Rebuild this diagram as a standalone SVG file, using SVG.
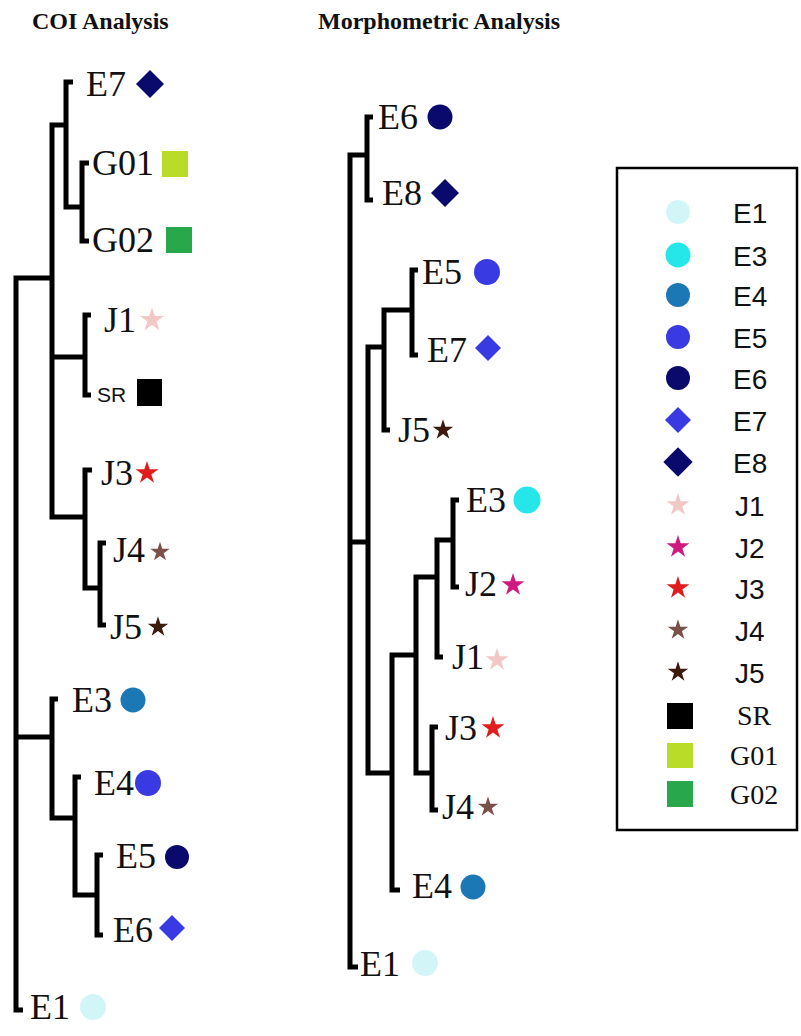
<svg xmlns="http://www.w3.org/2000/svg" xmlns:xlink="http://www.w3.org/1999/xlink" width="801" height="1036" viewBox="0 0 801 1036">
  <style>
    .title { font-family: "Liberation Serif", "Times New Roman", serif; font-weight: bold; font-size: 24px; fill: #111; }
    .lbl { font-family: "Liberation Serif", "Times New Roman", serif; font-size: 36px; fill: #111; }
    .sr { font-family: "Liberation Sans", Arial, sans-serif; font-size: 21px; fill: #111; }
    .leg { font-family: "Liberation Sans", Arial, sans-serif; font-size: 28px; fill: #111; }
    .legs { font-family: "Liberation Serif", "Times New Roman", serif; font-size: 28px; fill: #111; }
    .branch { fill: none; stroke: #000; stroke-width: 5; stroke-linejoin: miter; stroke-linecap: butt; }
    .c-e1 { fill: #d2f6f8; }
    .c-e3 { fill: #25e6e8; }
    .c-teal { fill: #1c78b4; }
    .c-blue { fill: #3a3ae2; }
    .c-navy { fill: #0a0a6c; }
    .c-j1 { fill: #f2c8c6; }
    .c-j2 { fill: #d01a80; }
    .c-j3 { fill: #e01c1c; }
    .c-j4 { fill: #7a5048; }
    .c-j5 { fill: #3c1a0e; }
    .c-sr { fill: #000; }
    .c-g01 { fill: #b8dc28; }
    .c-g02 { fill: #28a84a; }
  </style>
  <defs>
    <!-- five-pointed star, outer radius 12 -->
    <path id="star" d="M0,-12 L2.69,-3.71 L11.41,-3.71 L4.36,1.42 L7.05,9.71 L0,4.58 L-7.05,9.71 L-4.36,1.42 L-11.41,-3.71 L-2.69,-3.71 Z"/>
    <!-- diamond, half-diagonal 14 -->
    <path id="diamond" d="M0,-14 L14,0 L0,14 L-14,0 Z"/>
  </defs>

  <rect width="801" height="1036" fill="#fff"/>

  <text class="title" x="32" y="29">COI Analysis</text>
  <text class="title" x="318" y="29">Morphometric Analysis</text>

  <!-- tree branches -->
  <g id="connectors">
    <!-- COI tree -->
    <path class="branch" d="M23,1010 H16 V278 H52"/>
    <path class="branch" d="M16,737 H52"/>
    <path class="branch" d="M66,125 H52 V517 H85"/>
    <path class="branch" d="M52,357 H85"/>
    <path class="branch" d="M73,82 H66 V207 H82"/>
    <path class="branch" d="M89,163 H82 V241 H89"/>
    <path class="branch" d="M91,315 H85 V395 H91"/>
    <path class="branch" d="M92,470 H85 V588 H100"/>
    <path class="branch" d="M106,543 H100 V625 H106"/>
    <path class="branch" d="M58,699 H52 V818 H75"/>
    <path class="branch" d="M81,777 H75 V895 H97"/>
    <path class="branch" d="M103,855 H97 V935 H103"/>
    <!-- Morphometric tree -->
    <path class="branch" d="M358,967 H350 V155 H367"/>
    <path class="branch" d="M350,542 H368"/>
    <path class="branch" d="M373,117 H367 V200 H373"/>
    <path class="branch" d="M384,347 H368 V773 H392"/>
    <path class="branch" d="M390,430 H384 V310 H412"/>
    <path class="branch" d="M418,270 H412 V355 H418"/>
    <path class="branch" d="M400,890 H392 V655 H416"/>
    <path class="branch" d="M437,577 H416 V773 H432"/>
    <path class="branch" d="M438,810 H432 V727 H438"/>
    <path class="branch" d="M443,657 H437 V540 H453"/>
    <path class="branch" d="M459,500 H453 V587 H459"/>
  </g>

  <!-- COI tree leaves -->
  <g id="coi-E7"><text class="lbl" x="86" y="96">E7</text><use xlink:href="#diamond" class="c-navy" transform="translate(150,84)"/></g>
  <g id="coi-G01"><text class="lbl" x="92" y="175">G01</text><rect class="c-g01" x="162" y="151" width="26" height="26"/></g>
  <g id="coi-G02"><text class="lbl" x="92" y="252">G02</text><rect class="c-g02" x="166" y="227" width="26" height="26"/></g>
  <g id="coi-J1"><text class="lbl" x="104" y="332">J1</text><use xlink:href="#star" class="c-j1" transform="translate(152,320) scale(1.05)"/></g>
  <g id="coi-SR"><text class="sr" x="97" y="402">SR</text><rect class="c-sr" x="137" y="379" width="25" height="27"/></g>
  <g id="coi-J3"><text class="lbl" x="101" y="485">J3</text><use xlink:href="#star" class="c-j3" transform="translate(147,473)"/></g>
  <g id="coi-J4"><text class="lbl" x="113" y="562">J4</text><use xlink:href="#star" class="c-j4" transform="translate(160,552) scale(0.85)"/></g>
  <g id="coi-J5"><text class="lbl" x="110" y="639">J5</text><use xlink:href="#star" class="c-j5" transform="translate(158,627) scale(0.9)"/></g>
  <g id="coi-E3"><text class="lbl" x="72" y="712">E3</text><circle class="c-teal" cx="133" cy="700" r="12.5"/></g>
  <g id="coi-E4"><text class="lbl" x="94" y="795">E4</text><circle class="c-blue" cx="148" cy="783" r="13"/></g>
  <g id="coi-E5"><text class="lbl" x="116" y="868">E5</text><circle class="c-navy" cx="177" cy="857" r="12"/></g>
  <g id="coi-E6"><text class="lbl" x="113" y="942">E6</text><use xlink:href="#diamond" class="c-blue" transform="translate(172,928) scale(0.93)"/></g>
  <g id="coi-E1"><text class="lbl" x="30" y="1019">E1</text><circle class="c-e1" cx="93" cy="1007" r="13"/></g>

  <!-- Morphometric tree leaves -->
  <g id="mor-E6"><text class="lbl" x="378" y="129">E6</text><circle class="c-navy" cx="440" cy="117" r="12.5"/></g>
  <g id="mor-E8"><text class="lbl" x="382" y="205">E8</text><use xlink:href="#diamond" class="c-navy" transform="translate(445,193)"/></g>
  <g id="mor-E5"><text class="lbl" x="422" y="284">E5</text><circle class="c-blue" cx="487" cy="272" r="13"/></g>
  <g id="mor-E7"><text class="lbl" x="427" y="362">E7</text><use xlink:href="#diamond" class="c-blue" transform="translate(488,348) scale(0.93)"/></g>
  <g id="mor-J5"><text class="lbl" x="398" y="442">J5</text><use xlink:href="#star" class="c-j5" transform="translate(443,430) scale(0.9)"/></g>
  <g id="mor-E3"><text class="lbl" x="466" y="512">E3</text><circle class="c-e3" cx="527" cy="500" r="13.5"/></g>
  <g id="mor-J2"><text class="lbl" x="465" y="596">J2</text><use xlink:href="#star" class="c-j2" transform="translate(513,585)"/></g>
  <g id="mor-J1"><text class="lbl" x="452" y="669">J1</text><use xlink:href="#star" class="c-j1" transform="translate(497,660)"/></g>
  <g id="mor-J3"><text class="lbl" x="445" y="740">J3</text><use xlink:href="#star" class="c-j3" transform="translate(493,728)"/></g>
  <g id="mor-J4"><text class="lbl" x="442" y="819">J4</text><use xlink:href="#star" class="c-j4" transform="translate(488,807) scale(0.88)"/></g>
  <g id="mor-E4"><text class="lbl" x="412" y="898">E4</text><circle class="c-teal" cx="473" cy="887" r="12.5"/></g>
  <g id="mor-E1"><text class="lbl" x="360" y="976">E1</text><circle class="c-e1" cx="425" cy="963" r="13"/></g>

  <!-- legend -->
  <g id="legend">
    <rect x="617" y="168" width="180" height="662" fill="#fff" stroke="#000" stroke-width="2.5"/>
    <g id="leg-E1"><circle class="c-e1" cx="678" cy="212" r="12"/><text class="leg" x="733" y="223">E1</text></g>
    <g id="leg-E3"><circle class="c-e3" cx="678" cy="255" r="12.5"/><text class="leg" x="733" y="266">E3</text></g>
    <g id="leg-E4"><circle class="c-teal" cx="678" cy="295" r="12"/><text class="leg" x="733" y="306">E4</text></g>
    <g id="leg-E5"><circle class="c-blue" cx="678" cy="337" r="12"/><text class="leg" x="733" y="348">E5</text></g>
    <g id="leg-E6"><circle class="c-navy" cx="678" cy="378" r="12"/><text class="leg" x="733" y="389">E6</text></g>
    <g id="leg-E7"><use xlink:href="#diamond" class="c-blue" transform="translate(678,420) scale(0.93)"/><text class="leg" x="733" y="431">E7</text></g>
    <g id="leg-E8"><use xlink:href="#diamond" class="c-navy" transform="translate(678,462) scale(1.05)"/><text class="leg" x="733" y="473">E8</text></g>
    <g id="leg-J1"><use xlink:href="#star" class="c-j1" transform="translate(678,505)"/><text class="leg" x="735" y="516">J1</text></g>
    <g id="leg-J2"><use xlink:href="#star" class="c-j2" transform="translate(678,547)"/><text class="leg" x="735" y="558">J2</text></g>
    <g id="leg-J3"><use xlink:href="#star" class="c-j3" transform="translate(678,588)"/><text class="leg" x="735" y="599">J3</text></g>
    <g id="leg-J4"><use xlink:href="#star" class="c-j4" transform="translate(678,630) scale(0.9)"/><text class="leg" x="735" y="641">J4</text></g>
    <g id="leg-J5"><use xlink:href="#star" class="c-j5" transform="translate(678,672) scale(0.9)"/><text class="leg" x="735" y="683">J5</text></g>
    <g id="leg-SR"><rect class="c-sr" x="667" y="703" width="26" height="26"/><text class="legs" x="737" y="725">SR</text></g>
    <g id="leg-G01"><rect class="c-g01" x="667" y="743" width="26" height="25"/><text class="legs" x="730" y="765">G01</text></g>
    <g id="leg-G02"><rect class="c-g02" x="667" y="781" width="26" height="26"/><text class="legs" x="730" y="804">G02</text></g>
  </g>
</svg>
